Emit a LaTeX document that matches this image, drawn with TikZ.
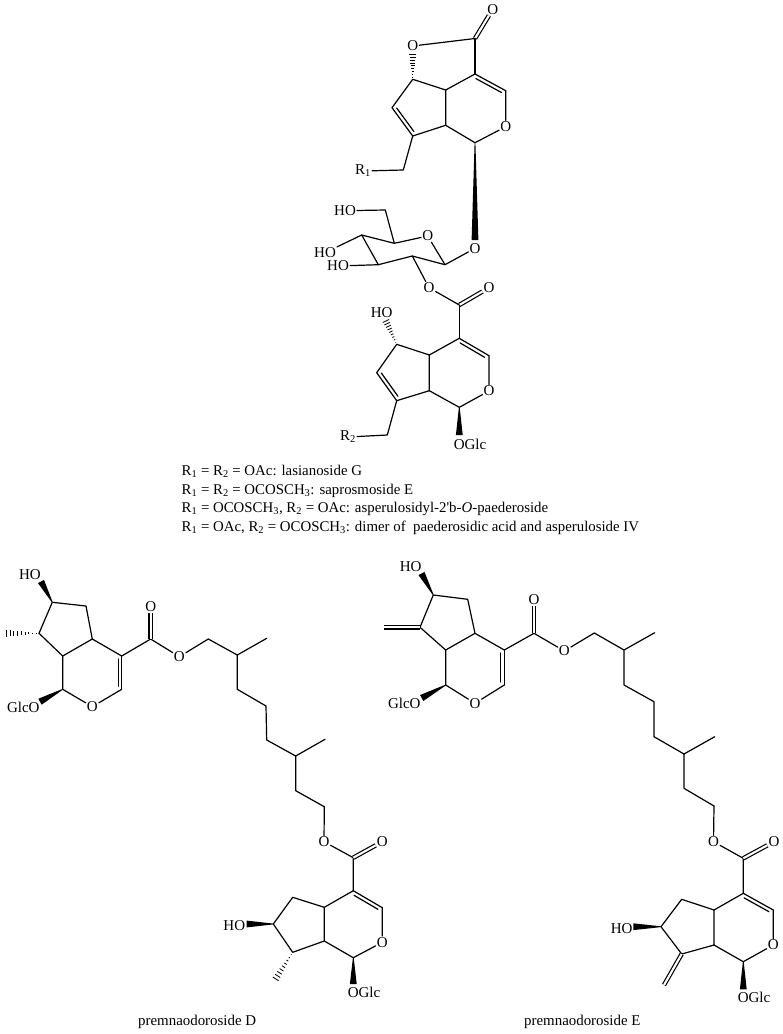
\documentclass[tikz,border=0pt]{standalone}
\usepackage{fontspec}
\setmainfont{Liberation Serif}
\newfontfamily\straightfont{Liberation Serif}
\usetikzlibrary{calc}
\tikzset{
  bond/.style={line width=1.2pt, line cap=round, line join=round},
  dblbond/.style={bond, double, double distance=2.1pt, line cap=butt},
  atom/.style={inner sep=1pt, font=\fontsize{15}{15}\selectfont},
  caption/.style={inner sep=0pt, anchor=west, font=\fontsize{14.9}{14.9}\selectfont}
}
\newcommand{\ringdouble}[2]{
  \draw[bond] (#1) -- (#2);
  \draw[bond, shorten <=3pt, shorten >=3pt] ($(#1)!3.6pt!-90:(#2)$) -- ($(#2)!3.6pt!90:(#1)$);
}
\newcommand{\wedgebond}[2]{
  \fill ($(#1)!0.4pt!90:(#2)$) -- ($(#2)!3.4pt!-90:(#1)$) -- ($(#2)!3.4pt!90:(#1)$) -- ($(#1)!0.4pt!-90:(#2)$) -- cycle;
}
\newcommand{\hashbond}[2]{
  \foreach \t in {0.08,0.19,...,1.02}
    \draw[line width=0.8pt] ($(#1)!\t!(#2)!\t*3.6pt!90:(#2)$) -- ($(#1)!\t!(#2)!\t*3.6pt!-90:(#2)$);
}
\begin{document}
\begin{tikzpicture}[x=1pt, y=-1pt]
  \useasboundingbox (0,0) rectangle (783,1034);

  \node[atom] (tOa) at (492.7,9.3) {O};
  \node[atom] (tOb) at (412.7,46) {O};
  \node[atom] (tOc) at (505.7,126.7) {O};
  \node[atom] (Ra) at (363,171) {R\textsubscript{1}};
  \coordinate (tCa) at (475,38.5);
  \coordinate (tCb) at (475,74);
  \coordinate (tCc) at (505.7,90.7);
  \coordinate (tCd) at (475,142.7);
  \coordinate (tCe) at (445.7,125.3);
  \coordinate (tCf) at (445.7,90);
  \coordinate (tCg) at (412.7,79.3);
  \coordinate (tCh) at (392,107.7);
  \coordinate (tCi) at (412.7,136);
  \coordinate (tCj) at (403.3,170);
  \coordinate (thash) at (412.7,53.5);
  \coordinate (twedge) at (475,240);
  \draw[dblbond] (tCa) -- (tOa);
  \draw[bond] (tCa) -- (tOb);
  \draw[bond] (tCa) -- (tCb);
  \ringdouble{tCb}{tCc}
  \draw[bond] (tCc) -- (tOc) -- (tCd) -- (tCe) -- (tCf) -- (tCb);
  \draw[bond] (tCf) -- (tCg) -- (tCh);
  \ringdouble{tCi}{tCh}
  \draw[bond] (tCi) -- (tCe);
  \draw[bond] (tCi) -- (tCj) -- (Ra);
  \hashbond{tCg}{thash}
  \wedgebond{tCd}{twedge}

  \node[atom] (sOa) at (475,248.3) {O};
  \node[atom] (sOb) at (427.7,236) {O};
  \node[atom] (sOc) at (429,287.7) {O};
  \node[atom] (sOd) at (489,287.7) {O};
  \node[atom] (HOa) at (345,210.7) {HO};
  \node[atom] (HOb) at (325,252.7) {HO};
  \node[atom] (HOc) at (338,266) {HO};
  \coordinate (sCa) at (445,264.7);
  \coordinate (sCb) at (394.3,243.3);
  \coordinate (sCc) at (385.3,210);
  \coordinate (sCd) at (361.7,235);
  \coordinate (sCe) at (378.3,264.7);
  \coordinate (sCf) at (412.3,256);
  \coordinate (sCg) at (459.3,305);
  \draw[bond] (sOa) -- (sCa) -- (sOb) -- (sCb) -- (sCc) -- (HOa);
  \draw[bond] (sCb) -- (sCd) -- (sCe) -- (sCf) -- (sCa);
  \draw[bond] (sCd) -- (HOb);
  \draw[bond] (sCe) -- (HOc);
  \draw[bond] (sCf) -- (sOc) -- (sCg);
  \draw[dblbond] (sCg) -- (sOd);

  \node[atom] (gO) at (489,391) {O};
  \node[atom] (HOd) at (381.7,312.7) {HO};
  \node[atom] (Rb) at (348,437) {R\textsubscript{2}};
  \node[atom] (gGlc) at (470,444) {OGlc};
  \coordinate (gCa) at (459.3,338.3);
  \coordinate (gCb) at (489,355.7);
  \coordinate (gCc) at (459.3,407.3);
  \coordinate (gCd) at (429.3,390.7);
  \coordinate (gCe) at (429.3,355);
  \coordinate (gCf) at (396.7,344.3);
  \coordinate (gCg) at (376.7,372.7);
  \coordinate (gCh) at (396.7,400.7);
  \coordinate (gCi) at (387.3,435);
  \coordinate (ghash) at (385.5,320);
  \coordinate (gwedge) at (459.3,435);
  \draw[bond] (sCg) -- (gCa);
  \ringdouble{gCa}{gCb}
  \draw[bond] (gCb) -- (gO) -- (gCc) -- (gCd) -- (gCe) -- (gCa);
  \draw[bond] (gCe) -- (gCf) -- (gCg);
  \ringdouble{gCh}{gCg}
  \draw[bond] (gCh) -- (gCd);
  \draw[bond] (gCh) -- (gCi) -- (Rb);
  \hashbond{gCf}{ghash}
  \wedgebond{gCc}{gwedge}

  \node[caption, align=left, anchor=north west, font=\fontsize{14.85}{18.5}\selectfont] (legend) at (181.5,465) {%
    R\textsubscript{1} = R\textsubscript{2} = OAc: lasianoside G\\
    R\textsubscript{1} = R\textsubscript{2} = OCOSCH\textsubscript{3}: saprosmoside E\\
    R\textsubscript{1} = OCOSCH\textsubscript{3}, R\textsubscript{2} = OAc: asperulosidyl-2{\straightfont'}b-\textit{O}-paederoside\\
    R\textsubscript{1} = OAc, R\textsubscript{2} = OCOSCH\textsubscript{3}: dimer of\ \ paederosidic acid and asperuloside IV};

  \node[atom] (dHOa) at (30,575) {HO};
  \node[atom] (dGlca) at (23.3,707.3) {GlcO};
  \node[atom] (dOa) at (92.3,706.7) {O};
  \node[atom] (dOb) at (150.7,606.7) {O};
  \node[atom] (dOc) at (179.3,656.7) {O};
  \coordinate (dCa) at (52.3,602.3);
  \coordinate (dCb) at (86,606);
  \coordinate (dCc) at (92.3,639);
  \coordinate (dCd) at (121.7,656);
  \coordinate (dCe) at (121.7,689.3);
  \coordinate (dCf) at (62.7,689.3);
  \coordinate (dCg) at (62.7,656);
  \coordinate (dCh) at (39,633.3);
  \coordinate (dCi) at (150.7,639);
  \coordinate (dCj) at (208.3,639);
  \coordinate (dCk) at (237.3,655);
  \coordinate (dMa) at (266.7,638.3);
  \coordinate (dCl) at (237.3,689.3);
  \coordinate (dCm) at (266,706);
  \coordinate (dCn) at (266.7,740);
  \coordinate (dCo) at (295.7,756);
  \coordinate (dMb) at (325,739.3);
  \coordinate (dCp) at (295.7,790.7);
  \coordinate (dCq) at (324.3,806.7);
  \coordinate (dwa) at (41,581.5);
  \coordinate (dwb) at (40,701.7);
  \coordinate (dhash) at (5,633.3);
  \draw[bond] (dCh) -- (dCa) -- (dCb) -- (dCc) -- (dCd);
  \ringdouble{dCd}{dCe}
  \draw[bond] (dCe) -- (dOa) -- (dCf) -- (dCg) -- (dCh);
  \draw[bond] (dCg) -- (dCc);
  \draw[bond] (dCd) -- (dCi) -- (dOc) -- (dCj) -- (dCk) -- (dMa);
  \draw[dblbond] (dCi) -- (dOb);
  \draw[bond] (dCk) -- (dCl) -- (dCm) -- (dCn) -- (dCo) -- (dMb);
  \draw[bond] (dCo) -- (dCp) -- (dCq);
  \wedgebond{dCa}{dwa}
  \wedgebond{dCf}{dwb}
  \hashbond{dCh}{dhash}

  \node[atom] (dOd) at (324,841.7) {O};
  \node[atom] (dOe) at (382.3,841.7) {O};
  \node[atom] (dOf) at (382.3,942.3) {O};
  \node[atom] (dHOb) at (234.3,925.7) {HO};
  \node[atom] (dGlcb) at (364,992.7) {OGlc};
  \coordinate (dDa) at (353.3,857.7);
  \coordinate (dDb) at (353.3,890.7);
  \coordinate (dDc) at (382.3,907.7);
  \coordinate (dDd) at (353.3,957.7);
  \coordinate (dDe) at (324.3,941);
  \coordinate (dDf) at (324.3,907.3);
  \coordinate (dDg) at (292.7,897.3);
  \coordinate (dDh) at (273.3,924);
  \coordinate (dDi) at (292.7,952.3);
  \coordinate (dwc) at (246.7,924);
  \coordinate (dwd) at (353.3,984);
  \coordinate (dhashb) at (275,980);
  \draw[bond] (dCq) -- (dOd) -- (dDa) -- (dDb);
  \draw[dblbond] (dDa) -- (dOe);
  \ringdouble{dDb}{dDc}
  \draw[bond] (dDc) -- (dOf) -- (dDd) -- (dDe) -- (dDf) -- (dDb);
  \draw[bond] (dDf) -- (dDg) -- (dDh) -- (dDi) -- (dDe);
  \wedgebond{dDh}{dwc}
  \wedgebond{dDd}{dwd}
  \hashbond{dDi}{dhashb}
  \node[caption] (capD) at (138,1022) {premnaodoroside D};

  \node[atom] (eHOa) at (410.7,566.7) {HO};
  \node[atom] (eGlca) at (404.3,703.3) {GlcO};
  \node[atom] (eOa) at (475,703.3) {O};
  \node[atom] (eOb) at (534,600) {O};
  \node[atom] (eOc) at (564.3,651) {O};
  \coordinate (eCa) at (433.3,595);
  \coordinate (eCb) at (467.7,599.3);
  \coordinate (eCc) at (475,633.3);
  \coordinate (eCd) at (504.3,650);
  \coordinate (eCe) at (504.3,685);
  \coordinate (eCf) at (445.7,685);
  \coordinate (eCg) at (445.7,650);
  \coordinate (eCh) at (420,627.3);
  \coordinate (eCi) at (534,633.3);
  \coordinate (eCj) at (594.3,633);
  \coordinate (eCk) at (624,650);
  \coordinate (eMa) at (654.7,632.7);
  \coordinate (eCl) at (624,685);
  \coordinate (eCm) at (654,701.7);
  \coordinate (eCn) at (654,736.7);
  \coordinate (eCo) at (684,754);
  \coordinate (eMb) at (714.7,736.7);
  \coordinate (eCp) at (684,788.3);
  \coordinate (eCq) at (714,806);
  \coordinate (eMc) at (384,627.3);
  \coordinate (ewa) at (421.5,573.5);
  \coordinate (ewb) at (421.7,698);
  \draw[bond] (eCh) -- (eCa) -- (eCb) -- (eCc) -- (eCd);
  \ringdouble{eCd}{eCe}
  \draw[bond] (eCe) -- (eOa) -- (eCf) -- (eCg) -- (eCh);
  \draw[bond] (eCg) -- (eCc);
  \draw[bond] (eCd) -- (eCi) -- (eOc) -- (eCj) -- (eCk) -- (eMa);
  \draw[dblbond] (eCi) -- (eOb);
  \draw[dblbond] (eCh) -- (eMc);
  \draw[bond] (eCk) -- (eCl) -- (eCm) -- (eCn) -- (eCo) -- (eMb);
  \draw[bond] (eCo) -- (eCp) -- (eCq);
  \wedgebond{eCa}{ewa}
  \wedgebond{eCf}{ewb}

  \node[atom] (eOd) at (713.5,841.7) {O};
  \node[atom] (eOe) at (774,841.7) {O};
  \node[atom] (eOf) at (773.3,945) {O};
  \node[atom] (eHOb) at (621.7,928.3) {HO};
  \node[atom] (eGlcb) at (754,997.7) {OGlc};
  \coordinate (eDa) at (743.3,858.3);
  \coordinate (eDb) at (743.3,893.3);
  \coordinate (eDc) at (773.3,910);
  \coordinate (eDd) at (743.3,961.7);
  \coordinate (eDe) at (714,945);
  \coordinate (eDf) at (714,910);
  \coordinate (eDg) at (681.7,899.3);
  \coordinate (eDh) at (661,926.7);
  \coordinate (eDi) at (681.7,954);
  \coordinate (eMd) at (664,985);
  \coordinate (ewc) at (633.3,926.7);
  \coordinate (ewd) at (743.3,989.3);
  \draw[bond] (eCq) -- (eOd) -- (eDa) -- (eDb);
  \draw[dblbond] (eDa) -- (eOe);
  \ringdouble{eDb}{eDc}
  \draw[bond] (eDc) -- (eOf) -- (eDd) -- (eDe) -- (eDf) -- (eDb);
  \draw[bond] (eDf) -- (eDg) -- (eDh) -- (eDi) -- (eDe);
  \draw[dblbond] (eDi) -- (eMd);
  \wedgebond{eDh}{ewc}
  \wedgebond{eDd}{ewd}
  \node[caption] (capE) at (524,1022) {premnaodoroside E};
\end{tikzpicture}
\end{document}
